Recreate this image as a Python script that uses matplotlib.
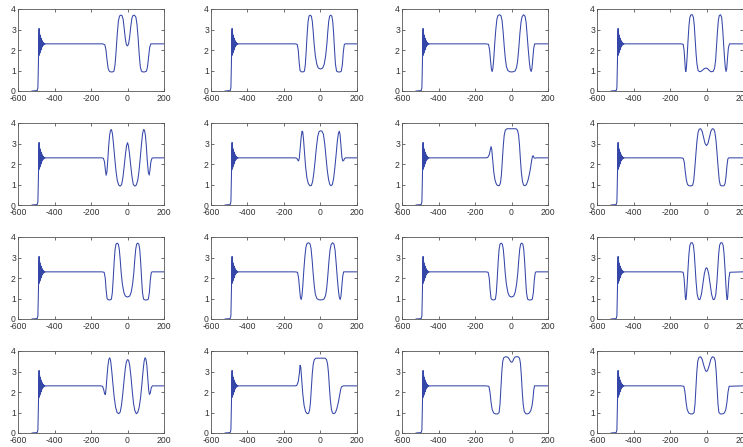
import matplotlib
matplotlib.use('Agg')
import matplotlib.pyplot as plt

plt.rcParams['font.family'] = ['Liberation Sans', 'DejaVu Sans']

# ---- data ----
x_ticks = [-600, -400, -200, 0, 200]
y_ticks = [0, 1, 2, 3, 4]

# shared step-up + ringing section (same in every panel)
step_x = [-523, -495, -491, -488, -486, -484.5, -483, -481.5, -480, -478.5, -477,
          -475.5, -474, -472.5, -471, -469.5, -468, -466.5, -465, -463, -461, -459,
          -456, -453, -449, -445]
step_y = [0, 0.02, 0.15, 1.4, 2.5, 3.05, 1.75, 2.8, 1.85, 2.7, 1.95, 2.6, 2.0,
          2.55, 2.08, 2.48, 2.15, 2.42, 2.2, 2.38, 2.24, 2.34, 2.27, 2.32, 2.29, 2.3]

# wave section of each panel, (x, y) pairs
wave_11 = [(-135,2.3),(-124,2.25),(-118,2.0),(-112,1.5),(-106,1.1),(-100,0.97),(-92,0.93),
           (-82,0.93),(-74,0.97),(-68,1.3),(-62,2.0),(-56,2.8),(-50,3.4),(-44,3.65),(-38,3.7),
           (-30,3.68),(-24,3.5),(-18,3.05),(-12,2.55),(-6,2.25),(0,2.2),(6,2.3),(12,2.65),
           (18,3.15),(24,3.55),(30,3.68),(38,3.7),(46,3.6),(52,3.25),(58,2.6),(64,1.8),
           (70,1.2),(76,0.97),(84,0.93),(94,0.93),(104,0.97),(110,1.2),(116,1.7),(122,2.15),
           (128,2.3),(200,2.3)]
wave_12 = [(-140,2.3),(-128,2.28),(-122,2.0),(-117,1.4),(-112,1.0),(-106,0.94),(-96,0.93),
           (-88,0.97),(-83,1.3),(-78,2.0),(-73,2.8),(-68,3.4),(-63,3.65),(-57,3.7),(-50,3.65),
           (-45,3.4),(-40,2.9),(-35,2.3),(-28,1.7),(-20,1.3),(-12,1.12),(0,1.07),(12,1.12),
           (20,1.3),(28,1.7),(35,2.3),(40,2.9),(45,3.4),(50,3.65),(56,3.7),(62,3.65),(67,3.4),
           (72,2.8),(77,2.0),(82,1.3),(88,0.97),(96,0.93),(108,0.93),(114,0.97),(120,1.3),
           (125,1.9),(130,2.25),(134,2.3),(200,2.3)]
wave_13 = [(-140,2.3),(-126,2.28),(-120,2.0),(-115,1.5),(-110,1.05),(-106,0.95),(-102,1.1),
           (-97,1.6),(-92,2.3),(-86,3.0),(-80,3.5),(-74,3.68),(-66,3.72),(-58,3.68),(-52,3.45),
           (-46,2.9),(-40,2.2),(-34,1.6),(-28,1.2),(-20,1.0),(-10,0.94),(0,0.93),(10,0.94),
           (20,0.98),(28,1.15),(34,1.5),(40,2.1),(46,2.8),(52,3.35),(58,3.62),(66,3.72),
           (74,3.65),(80,3.35),(86,2.7),(92,2.0),(98,1.4),(103,1.05),(108,0.95),(112,1.1),
           (117,1.6),(122,2.1),(127,2.3),(200,2.3)]
wave_14 = [(-140,2.3),(-128,2.28),(-123,2.0),(-119,1.5),(-116,1.05),(-113,0.95),(-110,1.15),
           (-106,1.7),(-101,2.5),(-96,3.2),(-91,3.6),(-85,3.72),(-78,3.72),(-72,3.6),(-67,3.2),
           (-62,2.5),(-57,1.8),(-52,1.3),(-46,1.0),(-38,0.94),(-28,0.97),(-15,1.07),(-5,1.12),
           (5,1.1),(15,1.0),(25,0.94),(36,0.95),(44,1.1),(50,1.5),(55,2.2),(60,2.9),(65,3.45),
           (70,3.68),(77,3.72),(83,3.6),(88,3.1),(93,2.4),(98,1.7),(103,1.15),(107,0.95),
           (111,1.1),(115,1.6),(120,2.1),(126,2.3),(200,2.3)]
wave_21 = [(-140,2.3),(-132,2.28),(-126,2.1),(-121,1.7),(-117,1.45),(-113,1.6),(-108,2.2),
           (-103,2.9),(-98,3.4),(-93,3.65),(-88,3.68),(-83,3.5),(-77,3.0),(-70,2.3),(-63,1.65),
           (-56,1.2),(-48,0.97),(-40,0.92),(-32,1.0),(-25,1.35),(-18,1.9),(-11,2.5),(-5,2.9),
           (0,3.04),(5,2.9),(11,2.5),(18,1.9),(25,1.35),(32,1.0),(40,0.92),(48,0.97),(56,1.2),
           (63,1.65),(70,2.3),(77,3.0),(83,3.5),(88,3.68),(93,3.65),(98,3.4),(103,2.9),
           (108,2.2),(114,1.6),(119,1.46),(123,1.7),(128,2.1),(134,2.28),(140,2.3),(200,2.3)]
wave_22 = [(-140,2.3),(-130,2.28),(-124,2.18),(-120,2.15),(-116,2.3),(-111,2.8),(-106,3.3),
           (-101,3.6),(-97,3.55),(-93,3.2),(-88,2.6),(-82,1.9),(-75,1.35),(-67,1.05),(-58,0.94),
           (-50,0.95),(-43,1.15),(-36,1.6),(-29,2.2),(-22,2.85),(-15,3.35),(-8,3.58),(0,3.62),
           (8,3.6),(16,3.45),(23,3.0),(30,2.35),(37,1.7),(44,1.25),(51,1.0),(58,0.94),(65,1.0),
           (72,1.3),(79,1.85),(86,2.5),(92,3.1),(98,3.5),(103,3.6),(107,3.45),(112,2.9),
           (117,2.35),(122,2.15),(127,2.17),(132,2.27),(138,2.3),(200,2.3)]
wave_23 = [(-140,2.3),(-130,2.32),(-122,2.45),(-116,2.7),(-112,2.85),(-108,2.7),(-103,2.2),
           (-97,1.6),(-90,1.2),(-82,1.0),(-74,0.94),(-66,0.95),(-60,1.1),(-55,1.5),(-50,2.2),
           (-45,2.9),(-40,3.4),(-34,3.65),(-25,3.72),(0,3.72),(25,3.72),(33,3.65),(39,3.4),
           (44,2.9),(49,2.2),(54,1.6),(60,1.15),(66,0.97),(74,0.94),(82,1.0),(90,1.2),(98,1.5),
           (105,1.85),(110,2.15),(115,2.38),(119,2.4),(124,2.3),(130,2.28),(136,2.3),(200,2.3)]
wave_24 = [(-140,2.3),(-128,2.28),(-122,2.1),(-116,1.6),(-110,1.2),(-104,1.0),(-96,0.94),
           (-86,0.93),(-76,0.96),(-70,1.2),(-64,1.8),(-58,2.5),(-52,3.15),(-46,3.55),(-40,3.7),
           (-32,3.72),(-24,3.6),(-16,3.3),(-8,3.0),(0,2.9),(8,3.0),(16,3.3),(24,3.6),(32,3.72),
           (40,3.7),(46,3.55),(52,3.15),(58,2.5),(64,1.8),(70,1.2),(76,0.96),(86,0.93),
           (96,0.94),(102,1.05),(107,1.4),(112,1.9),(117,2.25),(122,2.3),(200,2.3)]
wave_31 = list(wave_12)
wave_32 = list(wave_13)
wave_33 = list(wave_12)
wave_34 = [(-140,2.3),(-128,2.28),(-123,2.0),(-119,1.5),(-116,1.05),(-113,0.95),(-110,1.15),
           (-106,1.7),(-101,2.5),(-96,3.2),(-91,3.6),(-85,3.72),(-78,3.72),(-72,3.6),(-67,3.2),
           (-62,2.5),(-57,1.8),(-51,1.2),(-44,0.96),(-36,0.95),(-28,1.2),(-20,1.7),(-12,2.2),
           (-5,2.45),(0,2.5),(5,2.45),(12,2.2),(20,1.7),(28,1.2),(36,0.95),(44,0.96),(51,1.2),
           (57,1.8),(62,2.5),(67,3.2),(72,3.6),(78,3.72),(85,3.72),(91,3.6),(96,3.2),(101,2.5),
           (106,1.7),(110,1.15),(113,0.95),(116,1.05),(119,1.5),(123,2.0),(128,2.28),(200,2.3)]
wave_41 = [(-145,2.3),(-136,2.27),(-130,2.1),(-125,1.9),(-121,1.88),(-117,2.2),(-112,2.8),
           (-107,3.3),(-102,3.6),(-97,3.67),(-92,3.5),(-86,3.0),(-80,2.4),(-73,1.75),(-65,1.25),
           (-57,1.0),(-48,0.94),(-40,1.02),(-33,1.35),(-26,1.9),(-19,2.55),(-12,3.15),(-6,3.48),
           (0,3.58),(6,3.55),(12,3.3),(19,2.75),(26,2.05),(33,1.45),(40,1.1),(48,0.94),(56,1.0),
           (64,1.25),(72,1.75),(79,2.4),(85,3.0),(91,3.5),(96,3.67),(101,3.6),(106,3.3),
           (111,2.7),(116,2.1),(120,1.88),(125,1.95),(130,2.2),(136,2.3),(200,2.3)]
wave_42 = [(-140,2.3),(-130,2.32),(-122,2.5),(-116,2.9),(-112,3.3),(-108,3.2),(-103,2.6),
           (-97,1.9),(-90,1.35),(-82,1.05),(-74,0.95),(-66,0.95),(-60,1.1),(-55,1.5),(-50,2.2),
           (-45,2.9),(-40,3.35),(-34,3.58),(-25,3.65),(0,3.65),(25,3.65),(33,3.58),(39,3.35),
           (44,2.9),(49,2.2),(54,1.6),(60,1.15),(66,0.97),(74,0.94),(82,1.0),(90,1.2),(98,1.5),
           (105,1.85),(110,2.1),(115,2.25),(120,2.28),(126,2.3),(200,2.3)]
wave_43 = [(-140,2.3),(-124,2.28),(-118,2.0),(-112,1.5),(-106,1.15),(-98,0.98),(-88,0.93),
           (-76,0.93),(-68,1.0),(-63,1.4),(-58,2.2),(-53,3.0),(-48,3.5),(-42,3.68),(-32,3.72),
           (-20,3.7),(-12,3.6),(-5,3.48),(2,3.45),(8,3.52),(14,3.65),(22,3.72),(36,3.72),
           (44,3.65),(49,3.4),(54,2.8),(59,2.0),(64,1.4),(70,1.05),(78,0.94),(88,0.93),
           (98,0.98),(106,1.1),(113,1.35),(118,1.7),(122,2.1),(126,2.3),(200,2.3)]
wave_44 = [(-140,2.3),(-124,2.28),(-118,2.0),(-112,1.5),(-106,1.15),(-98,0.98),(-88,0.93),
           (-76,0.93),(-68,1.0),(-63,1.4),(-58,2.2),(-53,3.0),(-48,3.5),(-42,3.68),(-32,3.72),
           (-24,3.6),(-15,3.3),(-6,3.05),(0,3.0),(6,3.05),(15,3.3),(24,3.6),(32,3.72),
           (42,3.68),(48,3.5),(53,3.0),(58,2.2),(63,1.4),(68,1.0),(76,0.93),(88,0.93),
           (98,0.98),(106,1.15),(112,1.5),(118,2.0),(124,2.28),(200,2.3)]

waves = [[wave_11, wave_12, wave_13, wave_14],
         [wave_21, wave_22, wave_23, wave_24],
         [wave_31, wave_32, wave_33, wave_34],
         [wave_41, wave_42, wave_43, wave_44]]

# ---- figure ----
FW, FH = 743, 447
fig = plt.figure(figsize=(FW / 100, FH / 100), dpi=100)
lefts = [18, 211, 402, 597]
tops = [9, 123, 237, 351]
AW, AH = 146, 82
line_color = '#3446a8'

for r in range(4):
    for c in range(4):
        ax = fig.add_axes([lefts[c] / FW, 1 - (tops[r] + AH) / FH, AW / FW, AH / FH])
        wx = [p[0] for p in waves[r][c]]
        wy = [p[1] for p in waves[r][c]]
        xs = step_x + wx
        ys = step_y + wy
        ax.plot(xs, ys, color=line_color, lw=0.75)
        ax.set_xlim(-600, 200)
        ax.set_ylim(0, 4)
        ax.set_xticks(x_ticks)
        ax.set_yticks(y_ticks)
        ax.set_xticklabels([str(v) for v in x_ticks])
        ax.set_yticklabels([str(v) for v in y_ticks])
        ax.tick_params(axis='both', direction='in', length=2.5, width=0.5, top=True,
                       right=True, labelsize=6.2, colors='#333333')
        ax.tick_params(axis='x', pad=2.2)
        ax.tick_params(axis='y', pad=1.5)
        for s in ax.spines.values():
            s.set_linewidth(0.6)
            s.set_color('#555555')

fig.savefig('out.png', dpi=100)
